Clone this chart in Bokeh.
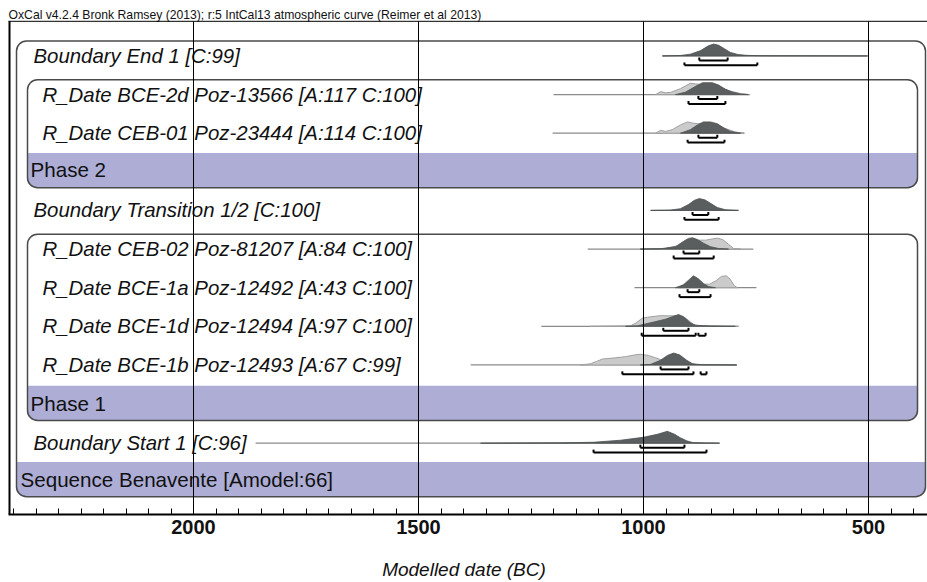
from bokeh.plotting import figure
from bokeh.models import Range1d, FixedTicker
from bokeh.embed import file_html
from bokeh.resources import INLINE
from bokeh.core.properties import value

# ---------------- data ----------------
title_text = "OxCal v4.2.4 Bronk Ramsey (2013); r:5 IntCal13 atmospheric curve (Reimer et al 2013)"
x_label = "Modelled date (BC)"
major_ticks = [2000, 1500, 1000, 500]
minor_ticks = [2400, 2350, 2300, 2250, 2200, 2150, 2100, 2050, 2000, 1950, 1900, 1850, 1800,
               1750, 1700, 1650, 1600, 1550, 1500, 1450, 1400, 1350, 1300, 1250, 1200, 1150,
               1100, 1050, 1000, 950, 900, 850, 800, 750, 700, 650, 600, 550, 500, 450, 400]

row_labels = [
    "Boundary End 1 [C:99]",
    "R_Date BCE-2d Poz-13566 [A:117 C:100]",
    "R_Date CEB-01 Poz-23444 [A:114 C:100]",
    "Boundary Transition 1/2 [C:100]",
    "R_Date CEB-02 Poz-81207 [A:84 C:100]",
    "R_Date BCE-1a Poz-12492 [A:43 C:100]",
    "R_Date BCE-1d Poz-12494 [A:97 C:100]",
    "R_Date BCE-1b Poz-12493 [A:67 C:99]",
    "Boundary Start 1 [C:96]",
]
group_labels = ["Phase 2", "Phase 1", "Sequence Benavente [Amodel:66]"]

# extent of the thin baseline of each row (years BC)
line_from = [958, 1200, 1202, 984, 1124, 1020, 1227, 1384, 1862]
line_to = [502, 764, 776, 789, 756, 749, 789, 793, 831]

# unmodelled (prior) likelihoods, light grey
end1_prior_yr, end1_prior_p = [], []
bce2d_prior_yr = [973, 962, 951, 940, 918, 896, 884, 873, 851, 829, 807, 784, 764]
bce2d_prior_p = [0, 0.25, 0.15, 0.18, 0.5, 0.95, 0.9, 0.85, 0.85, 0.6, 0.3, 0.08, 0]
ceb01_prior_yr = [973, 962, 951, 936, 918, 902, 891, 880, 862, 840, 818, 796, 776]
ceb01_prior_p = [0, 0.25, 0.15, 0.3, 0.7, 0.95, 0.85, 0.8, 0.8, 0.7, 0.4, 0.1, 0]
trans_prior_yr, trans_prior_p = [], []
ceb02_prior_yr = [1007, 951, 922, 904, 891, 878, 862, 847, 836, 824, 811, 800, 784]
ceb02_prior_p = [0, 0.05, 0.3, 0.6, 0.8, 0.75, 0.75, 0.85, 0.92, 0.8, 0.4, 0.05, 0]
bce1a_prior_yr = [922, 904, 891, 878, 867, 853, 838, 827, 816, 807, 798, 791]
bce1a_prior_p = [0, 0.4, 0.75, 0.5, 0.3, 0.3, 0.6, 0.95, 1.0, 0.7, 0.15, 0]
bce1d_prior_yr = [1118, 1029, 1016, 1002, 984, 962, 944, 929, 913, 900, 889, 873, 829, 789]
bce1d_prior_p = [0, 0.04, 0.3, 0.7, 0.8, 0.9, 0.88, 0.9, 0.85, 0.5, 0.15, 0.05, 0.02, 0]
bce1b_prior_yr = [1140, 1118, 1104, 1091, 1062, 1040, 1018, 1007, 989, 973, 962, 944, 929, 907, 884, 793]
bce1b_prior_p = [0, 0.1, 0.3, 0.5, 0.6, 0.7, 0.85, 0.9, 0.8, 0.6, 0.45, 0.5, 0.5, 0.2, 0.05, 0]
start1_prior_yr, start1_prior_p = [], []

# modelled (posterior) distributions, dark grey
end1_post_yr = [958, 918, 896, 873, 856, 844, 833, 820, 807, 790, 770, 740, 502]
end1_post_p = [0, 0.04, 0.15, 0.45, 0.85, 1.0, 0.9, 0.6, 0.3, 0.12, 0.05, 0.02, 0]
bce2d_post_yr = [929, 907, 884, 869, 847, 833, 818, 802, 784, 767]
bce2d_post_p = [0, 0.2, 0.7, 1.0, 1.0, 0.8, 0.45, 0.2, 0.05, 0]
ceb01_post_yr = [918, 896, 880, 867, 851, 836, 822, 807, 784]
ceb01_post_p = [0, 0.3, 0.7, 0.95, 0.95, 0.8, 0.45, 0.15, 0]
trans_post_yr = [984, 940, 918, 900, 887, 876, 864, 851, 836, 818, 789]
trans_post_p = [0, 0.03, 0.15, 0.5, 0.85, 1.0, 0.9, 0.6, 0.25, 0.06, 0]
ceb02_post_yr = [1007, 962, 929, 911, 900, 891, 880, 867, 851, 833, 811]
ceb02_post_p = [0, 0.03, 0.2, 0.65, 0.9, 0.95, 0.8, 0.5, 0.2, 0.05, 0]
bce1a_post_yr = [929, 911, 898, 889, 878, 867, 856, 840]
bce1a_post_p = [0, 0.25, 0.7, 1.0, 0.75, 0.35, 0.1, 0]
bce1d_post_yr = [1040, 1013, 996, 973, 951, 936, 922, 909, 896, 884, 851, 818, 796]
bce1d_post_p = [0, 0.05, 0.2, 0.4, 0.6, 0.8, 1.0, 0.75, 0.3, 0.08, 0.03, 0.01, 0]
bce1b_post_yr = [1007, 984, 962, 947, 933, 920, 904, 891, 873, 793]
bce1b_post_p = [0, 0.05, 0.4, 0.8, 1.0, 0.85, 0.4, 0.1, 0.02, 0]
start1_post_yr = [1362, 1184, 1111, 1051, 1000, 969, 947, 931, 918, 904, 891, 862, 831]
start1_post_p = [0, 0.03, 0.08, 0.25, 0.5, 0.75, 1.0, 0.75, 0.45, 0.2, 0.06, 0.02, 0]

# highest posterior density ranges (from, to) in years BC
hpd68 = [[(876, 813)], [(878, 836)], [(878, 836)], [(891, 856)], [(911, 876)],
         [(902, 876)], [(956, 900)], [(962, 900)], [(1007, 909)]]
hpd95 = [[(909, 747)], [(900, 818)], [(902, 820)], [(909, 833)], [(933, 844)],
         [(920, 851)], [(1004, 884), (878, 862)], [(1047, 889), (873, 860)], [(1111, 860)]]

priors = [(end1_prior_yr, end1_prior_p), (bce2d_prior_yr, bce2d_prior_p), (ceb01_prior_yr, ceb01_prior_p),
          (trans_prior_yr, trans_prior_p), (ceb02_prior_yr, ceb02_prior_p), (bce1a_prior_yr, bce1a_prior_p),
          (bce1d_prior_yr, bce1d_prior_p), (bce1b_prior_yr, bce1b_prior_p), (start1_prior_yr, start1_prior_p)]
posts = [(end1_post_yr, end1_post_p), (bce2d_post_yr, bce2d_post_p), (ceb01_post_yr, ceb01_post_p),
         (trans_post_yr, trans_post_p), (ceb02_post_yr, ceb02_post_p), (bce1a_post_yr, bce1a_post_p),
         (bce1d_post_yr, bce1d_post_p), (bce1b_post_yr, bce1b_post_p), (start1_post_yr, start1_post_p)]

# ---------------- layout (page pixels) ----------------
PX_PER_YR = 0.45
X_2000 = 193              # frame pixel of 2000 BC
FRAME_W = 927
X_START = 2000 + X_2000 / PX_PER_YR
X_END = X_START - FRAME_W / PX_PER_YR


def px2yr(px):
    return X_START - px / PX_PER_YR


row_y = [56, 95, 134, 212, 251, 290, 329, 368, 447]
row_text_x = [33, 42, 42, 33, 42, 42, 42, 42, 33]
group_text_x = [30, 30, 20]
group_text_y = [171, 407, 484]
PEAK_H = 12
FONT = "Liberation Sans"
LAV = "#ADADD6"
BOX_LINE = "#4A4A4A"

p = figure(width=FRAME_W, height=582, output_backend="svg", toolbar_location=None,
           x_range=Range1d(X_START, X_END), y_range=Range1d(519, 0),
           min_border_left=0, min_border_right=0, min_border_top=0, min_border_bottom=63,
           y_axis_location=None, outline_line_color=None)
p.grid.visible = False
p.background_fill_color = "white"
p.border_fill_color = "white"

# bands and boxes
boxes = [  # (left px, right px, top, bottom, band top)
    (16, 925, 41, 501, 466),
    (27, 917, 80, 189, 154),
    (27, 917, 236, 424, 389),
]
for (l, r, t, b, bt) in boxes:
    p.quad(left=[px2yr(l)], right=[px2yr(r)], top=[bt], bottom=[b], fill_color=LAV,
           line_color=None, border_radius=(0, 0, 10, 10))
for (l, r, t, b, bt) in boxes:
    p.quad(left=[px2yr(l)], right=[px2yr(r)], top=[t], bottom=[b], fill_color=None,
           line_color=BOX_LINE, line_width=1.5, border_radius=10)

# texts
for lab, tx, ty in zip(row_labels, row_text_x, row_y):
    p.text(x=[px2yr(tx)], y=[ty], text=[lab], text_font=value(FONT), text_font_size="20.4px",
           text_font_style="italic", text_baseline="alphabetic", text_align="left", text_color="#111111")
for lab, tx, ty in zip(group_labels, group_text_x, group_text_y):
    p.text(x=[px2yr(tx)], y=[ty], text=[lab], text_font=value(FONT), text_font_size="20.6px",
           text_baseline="alphabetic", text_align="left", text_color="#111111")
p.text(x=[px2yr(8)], y=[15], text=[title_text], text_font=value(FONT), text_font_size="12.2px",
       text_baseline="alphabetic", text_align="left", text_color="#111111")

# distributions
for i, y0 in enumerate(row_y):
    p.line([line_from[i], line_to[i]], [y0, y0], line_color="#8A8A8A", line_width=1.3)
    pyr, pp = priors[i]
    if pyr:
        p.patch(pyr, [y0 - v * PEAK_H for v in pp], fill_color="#CBCBCB", line_color="#A0A0A0",
                line_width=1)
    qyr, qp = posts[i]
    p.patch(qyr, [y0 - v * PEAK_H for v in qp], fill_color="#5A5E5E", line_color="#4E5252",
            line_width=0.8)

# HPD brackets
bx0, by0, bx1, by1 = [], [], [], []
for i, y0 in enumerate(row_y):
    for off, ranges in ((4.5, hpd68[i]), (9.5, hpd95[i])):
        for a, b in ranges:
            yy = y0 + off
            bx0 += [a, a, b]
            by0 += [yy, yy, yy]
            bx1 += [b, a, b]
            by1 += [yy, yy - 3, yy - 3]
p.segment(x0=bx0, y0=by0, x1=bx1, y1=by1, line_color="black", line_width=2)

# frame lines and date grid lines
p.segment(x0=major_ticks, y0=[21] * 4, x1=major_ticks, y1=[519] * 4, line_color="black", line_width=1)
p.segment(x0=[px2yr(9), px2yr(8)], y0=[21, 21], x1=[px2yr(9), X_END], y1=[519, 21],
          line_color="black", line_width=[2, 1])

ax = p.xaxis[0]
ax.bounds = (px2yr(8), X_END)
ax.ticker = FixedTicker(ticks=major_ticks, minor_ticks=minor_ticks)
ax.axis_label = x_label
ax.axis_label_text_font = FONT
ax.axis_label_text_font_size = "19px"
ax.axis_label_text_font_style = "italic"
ax.axis_label_text_color = "#111111"
ax.axis_label_standoff = 22
ax.major_label_text_font = FONT
ax.major_label_text_font_size = "20px"
ax.major_label_text_font_style = "bold"
ax.major_label_text_color = "#111111"
ax.major_label_standoff = 5
ax.axis_line_width = 2
ax.axis_line_color = "black"
ax.major_tick_in = 0
ax.major_tick_out = 0
ax.minor_tick_in = 6
ax.minor_tick_out = 0
ax.minor_tick_line_color = "black"

open("out.html", "w").write(file_html(p, INLINE))
